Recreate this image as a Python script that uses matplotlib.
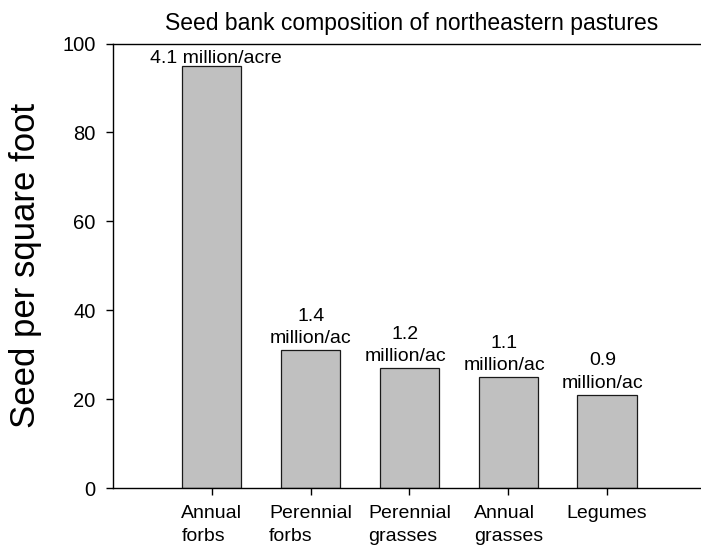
import matplotlib
matplotlib.use("Agg")
import matplotlib.pyplot as plt

plt.rcParams['font.family'] = ['Liberation Sans', 'DejaVu Sans']

categories = ["Annual\nforbs", "Perennial\nforbs", "Perennial\ngrasses", "Annual\ngrasses", "Legumes"]
values = [95, 31, 27, 25, 21]
bar_labels = ["4.1 million/acre", "1.4\nmillion/ac", "1.2\nmillion/ac", "1.1\nmillion/ac", "0.9\nmillion/ac"]
yticks = [0, 20, 40, 60, 80, 100]
title = "Seed bank composition of northeastern pastures"
ylabel = "Seed per square foot"

W, H = 701, 548
fig = plt.figure(figsize=(W / 100, H / 100), dpi=100)
ax = fig.add_axes([113 / W, 1 - 488 / H, (700 - 113) / W, (488 - 43.5) / H])

positions = list(range(1, len(categories) + 1))
bars = ax.bar(positions, values, width=0.6, color='#c0c0c0', edgecolor='#1a1a1a', linewidth=0.9)

label_offsets = [(3, -1.2), (0, 2.2), (-3, 2.2), (-3, 2.2), (-3, 2.2)]
for p, v, lab, off in zip(positions, values, bar_labels, label_offsets):
    ax.annotate(lab, xy=(p, v), xytext=off, textcoords='offset points',
                ha='center', va='bottom', fontsize=14, multialignment='center',
                linespacing=1.4)

ax.set_xlim(0, 5.94)
ax.set_ylim(0, 100)
ax.set_yticks(yticks)
ax.set_xticks(positions)
ax.set_xticklabels(categories, fontsize=14, multialignment='left', linespacing=1.4)
ax.tick_params(axis='y', direction='out', length=5, width=1.0, pad=7.5, labelsize=14.5)
ax.tick_params(axis='x', direction='out', length=5, width=1.0, pad=7.5)

for s in ['left', 'bottom', 'top']:
    ax.spines[s].set_linewidth(1.0)
ax.spines['right'].set_visible(False)

fig.text(412 / W, 1 - 30 / H, title, ha='center', va='baseline', fontsize=16.5)
fig.text(26 / W, 1 - 265 / H, ylabel, ha='center', va='center', rotation=90, fontsize=25)

fig.savefig("out.png", dpi=100)
